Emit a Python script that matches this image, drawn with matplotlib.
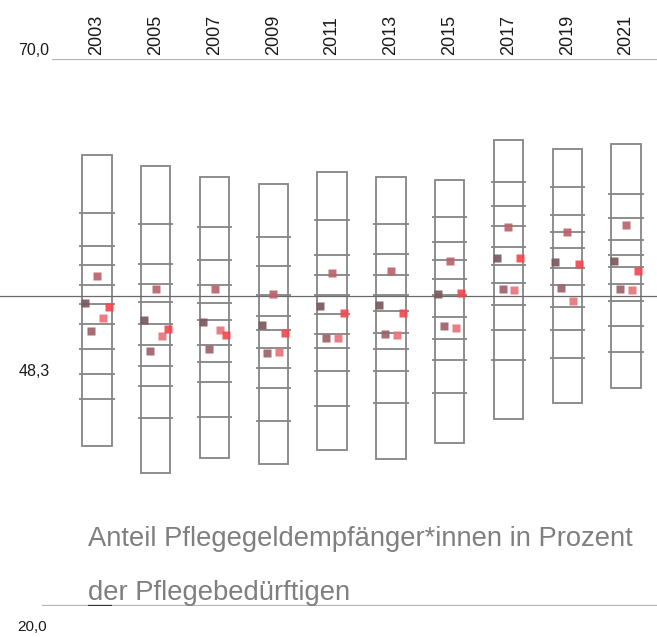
import matplotlib.pyplot as plt
from matplotlib.patches import Rectangle

plt.rcParams['font.family'] = ['Liberation Sans', 'DejaVu Sans']

years = ['2003', '2005', '2007', '2009', '2011', '2013', '2015', '2017', '2019', '2021']
mean_value = 48.3

# range of all states per year (box)
box_max = [61.2, 60.2, 59.2, 58.6, 59.7, 59.2, 58.9, 62.6, 61.8, 62.2]
box_min = [34.6, 32.2, 33.5, 33.0, 34.3, 33.4, 34.9, 37.1, 38.6, 39.9]

# the other states, drawn as short bars
other_values = [
    [55.9, 52.9, 51.2, 49.3, 47.6, 45.8, 43.5, 41.2, 38.9],
    [54.9, 51.3, 49.4, 47.8, 45.8, 43.9, 41.9, 40.1, 37.2],
    [54.6, 51.6, 49.3, 47.7, 46.1, 43.9, 42.3, 40.5, 37.3],
    [53.7, 51.1, 48.4, 46.5, 45.2, 43.6, 41.8, 39.9, 36.9],
    [55.3, 52.1, 50.3, 48.4, 46.7, 44.9, 43.6, 41.5, 38.3],
    [54.9, 52.2, 50.3, 48.4, 47.0, 45.0, 43.5, 41.5, 38.6],
    [55.6, 53.3, 51.6, 49.9, 48.4, 46.4, 44.4, 42.5, 39.5],
    [58.8, 56.6, 54.7, 52.8, 51.2, 49.5, 47.5, 45.2, 42.5],
    [58.3, 55.7, 54.2, 52.7, 50.9, 49.3, 47.3, 45.2, 42.7],
    [57.7, 55.5, 53.5, 52.1, 51.0, 49.4, 47.9, 45.6, 43.2],
]

# highlighted states (squares)
state_a = [47.7, 46.1, 46.0, 45.7, 47.4, 47.5, 48.5, 51.8, 51.4, 51.5]
state_b = [45.1, 43.3, 43.5, 43.1, 44.5, 44.9, 45.6, 49.0, 49.1, 49.0]
state_c = [50.2, 49.0, 49.0, 48.5, 50.4, 50.6, 51.5, 54.6, 54.2, 54.8]
state_d = [46.3, 44.7, 45.2, 43.2, 44.5, 44.8, 45.4, 48.9, 47.9, 48.9]
state_e = [47.3, 45.3, 44.8, 45.0, 46.8, 46.8, 48.6, 51.8, 51.3, 50.6]

highlight = [
    (state_a, -0.2, '#7a585c'),
    (state_b, -0.1, '#9c6268'),
    (state_c, 0.0, '#bc636b'),
    (state_d, 0.1, '#e8747a'),
    (state_e, 0.2, '#f4474f'),
]

fig = plt.figure(figsize=(6.57, 6.37), dpi=100)
ax = fig.add_axes([0, 31 / 637, 1, 547 / 637])
ax.set_xlim(-1.65, 9.527)
ax.set_ylim(20, 70)
ax.axis('off')

box_col = '#858585'
for i in range(len(years)):
    ax.add_patch(Rectangle((i - 0.25, box_min[i]), 0.5, box_max[i] - box_min[i],
                           fill=False, ec=box_col, lw=1.3))
    ax.hlines(other_values[i], i - 0.3, i + 0.3, color=box_col, lw=1.3)
    ax.text(i, 70.4, years[i], rotation=90, ha='center', va='bottom',
            fontsize=13, color='#1a1a1a')

ax.axhline(mean_value, color='#6a6a6a', lw=0.9)

for vals, off, col in highlight:
    ax.plot([i + off for i in range(len(years))], vals, 's', ms=6,
            color=col, mec='none', alpha=0.92)

ax.hlines(70, -0.766, 9.527, color='#b4b4b4', lw=1.6)
ax.hlines(20, -0.936, 9.527, color='#b4b4b4', lw=1.6)
ax.hlines(20, -0.153, 0.255, color='#333333', lw=1.6)

ax.text(-0.82, 70.4, '70,0', ha='right', va='baseline', fontsize=11.5, color='#1a1a1a')
ax.text(-0.80, 41.4, '48,3', ha='right', va='center', fontsize=11.5, color='#1a1a1a')
ax.text(-0.85, 18.1, '20,0', ha='right', va='center', fontsize=11, color='#1a1a1a')

ax.text(-0.153, 26.1, 'Anteil Pflegegeldempfänger*innen in Prozent', ha='left',
        va='center', fontsize=19.7, color='#7f7f7f')
ax.text(-0.153, 21.2, 'der Pflegebedürftigen', ha='left', va='center',
        fontsize=19.7, color='#7f7f7f')

fig.savefig('out.png', dpi=100)
